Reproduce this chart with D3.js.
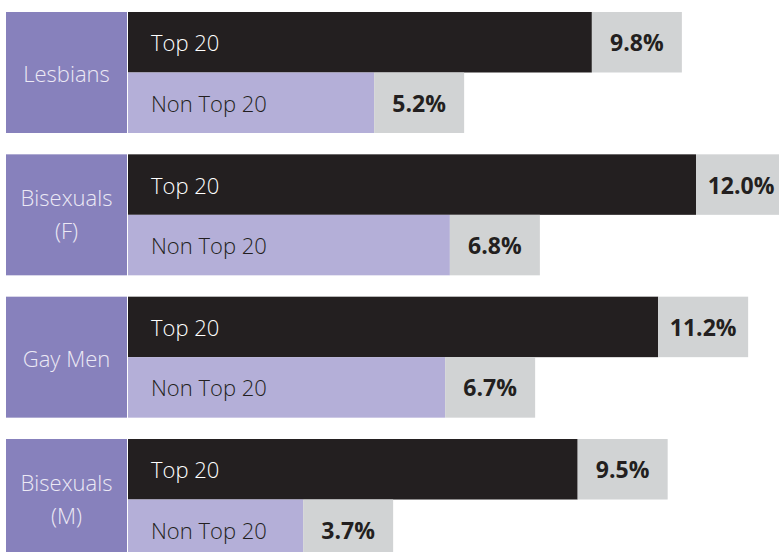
<!DOCTYPE html>
<html>
<head>
<meta charset="utf-8">
<script src="https://cdn.jsdelivr.net/npm/d3@7"></script>
<style>
  html, body { margin: 0; padding: 0; background: #fff; }
  svg { display: block; }
</style>
</head>
<body>
<svg id="chart" width="779" height="552"></svg>
<script>
// Groups, the two school tiers, and the share for each (percent)
const groups = ["Lesbians", "Bisexuals (F)", "Gay Men", "Bisexuals (M)"];
const groupLines = [["Lesbians"], ["Bisexuals", "(F)"], ["Gay Men"], ["Bisexuals", "(M)"]];
const tiers = ["Top 20", "Non Top 20"];
const top20 = [9.8, 12.0, 11.2, 9.5];
const nonTop20 = [5.2, 6.8, 6.7, 3.7];

const rows = groups.map((g, i) => ({
  group: g,
  lines: groupLines[i],
  values: [
    { tier: tiers[0], value: top20[i] },
    { tier: tiers[1], value: nonTop20[i] }
  ]
}));

const svg = d3.select("#chart");

const labelX0 = 6, barX0 = 128;
const valueBoxW = 90;

const y = d3.scaleBand().domain(groups).range([12, 560]).paddingInner(0.15).paddingOuter(0);
const yTier = d3.scaleBand().domain(tiers).range([0, y.bandwidth()]);
const x = d3.scaleLinear().domain([0, 12]).range([0, 568]);

const colors = {
  group: "#8781bc",
  groupText: "#ece9f5",
  "Top 20": "#231f20",
  "Non Top 20": "#b4afd8",
  valueBox: "#d1d3d4",
  darkText: "#231f20"
};

const g = svg.selectAll("g.group").data(rows).join("g")
  .attr("class", "group")
  .attr("transform", d => `translate(0,${y(d.group)})`);

// Category box on the left
g.append("rect")
  .attr("x", labelX0)
  .attr("y", 0)
  .attr("width", barX0 - 1 - labelX0)
  .attr("height", y.bandwidth())
  .attr("fill", colors.group);

g.append("text")
  .attr("text-anchor", "middle")
  .attr("font-family", "'Open Sans', sans-serif")
  .attr("font-weight", 300)
  .attr("font-size", 22)
  .attr("fill", colors.groupText)
  .each(function (d) {
    const lh = 33;
    const n = d.lines.length;
    const base = y.bandwidth() / 2 + (n > 1 ? 8 : 10) - (n - 1) * lh / 2;
    d3.select(this).selectAll("tspan").data(d.lines).join("tspan")
      .attr("x", (labelX0 + barX0 - 1) / 2)
      .attr("y", (_, j) => base + j * lh)
      .text(t => t);
  });

// Bars for each tier, each followed by its value box
const bar = g.selectAll("g.bar").data(d => d.values).join("g")
  .attr("class", "bar")
  .attr("transform", d => `translate(0,${yTier(d.tier)})`);

bar.append("rect")
  .attr("x", barX0)
  .attr("y", 0)
  .attr("width", d => x(d.value))
  .attr("height", yTier.bandwidth())
  .attr("fill", d => colors[d.tier]);

bar.append("rect")
  .attr("x", d => barX0 + x(d.value))
  .attr("y", 0)
  .attr("width", valueBoxW)
  .attr("height", yTier.bandwidth())
  .attr("fill", colors.valueBox);

bar.append("text")
  .attr("x", barX0 + 23)
  .attr("y", yTier.bandwidth() / 2 + 9)
  .attr("font-family", "'Open Sans', sans-serif")
  .attr("font-weight", 300)
  .attr("font-size", 22)
  .attr("fill", d => d.tier === "Top 20" ? "#ffffff" : colors.darkText)
  .text(d => d.tier);

bar.append("text")
  .attr("x", d => barX0 + x(d.value) + valueBoxW / 2)
  .attr("y", yTier.bandwidth() / 2 + 9)
  .attr("text-anchor", "middle")
  .attr("font-family", "'Open Sans', sans-serif")
  .attr("font-weight", 700)
  .attr("font-size", 23)
  .attr("fill", colors.darkText)
  .text(d => d.value.toFixed(1) + "%");
</script>
</body>
</html>
